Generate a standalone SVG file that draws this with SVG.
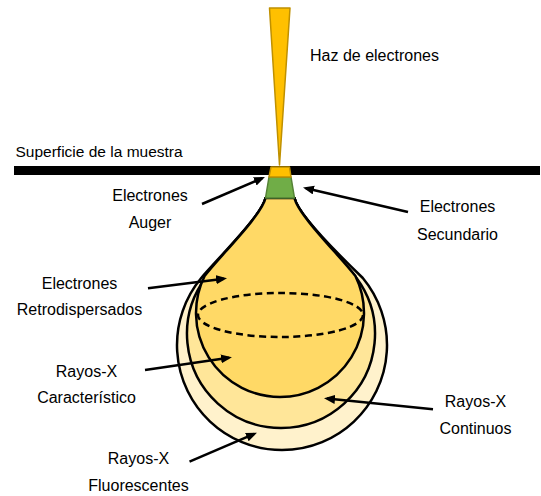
<svg xmlns="http://www.w3.org/2000/svg" width="541" height="496" viewBox="0 0 541 496">
  <style>
    .lbl { font-family: "Liberation Sans", Arial, sans-serif; font-size: 16px; fill: #000; }
    .mid { text-anchor: middle; }
    .vol { stroke: #000; stroke-width: 2.5; stroke-linejoin: round; }
    .arrow { stroke: #000; stroke-width: 2.5; fill: none; marker-end: url(#head); }
  </style>
  <defs>
    <marker id="head" markerUnits="userSpaceOnUse" markerWidth="12" markerHeight="10" refX="8" refY="4.5" orient="auto">
      <path d="M0,0 L11,4.5 L0,9 Z" fill="#000"/>
    </marker>
  </defs>

  <rect width="541" height="496" fill="#fff"/>

  <!-- interaction volume: three nested pear shapes sharing one neck -->
  <g id="fluorescent-volume">
    <path class="vol" fill="#FFF2CC" d="M265.5,198 C262,215 220,256 201.2,278 A105,105 0 1 0 362.8,278 C340,256 298,215 294.5,198 Z"/>
  </g>
  <g id="continuous-volume">
    <path class="vol" fill="#FFE699" d="M265.5,198 C262,215 220,256 205.5,278 A94,94 0 1 0 356.5,278 C340,256 298,215 294.5,198 Z"/>
  </g>
  <g id="characteristic-volume">
    <path class="vol" fill="#FFD966" d="M265.5,198 C262,215 220,256 204.6,276 A84,84 0 1 0 355.4,276 C340,256 298,215 294.5,198 Z"/>
    <ellipse cx="280.5" cy="315" rx="82.5" ry="22" fill="none" stroke="#000" stroke-width="2.5" stroke-dasharray="7,4.5"/>
  </g>

  <!-- sample surface -->
  <g id="surface">
    <rect x="14" y="166" width="526" height="9" fill="#000"/>
  </g>

  <!-- secondary electron zone -->
  <g id="secondary-zone">
    <polygon points="269,177 291,177 294.5,198 265.5,198" fill="#70AD47" stroke="#548235" stroke-width="1.5" stroke-linejoin="round"/>
  </g>
  <!-- Auger zone -->
  <g id="auger-zone">
    <polygon points="271,167 289.5,167 291,177 269,177" fill="#FFC000" stroke="#BF9000" stroke-width="1.5" stroke-linejoin="round"/>
  </g>

  <!-- electron beam -->
  <g id="beam">
    <polygon points="269.5,8 290,8 279.5,165" fill="#FFC000" stroke="#BF9000" stroke-width="1.5" stroke-linejoin="round"/>
  </g>

  <!-- pointers -->
  <g id="connectors">
    <line class="arrow" x1="202" y1="204" x2="262.2" y2="178.2"/>
    <line class="arrow" x1="408" y1="212" x2="305.9" y2="188.2"/>
    <line class="arrow" x1="148" y1="288.3" x2="224" y2="278.7"/>
    <line class="arrow" x1="145" y1="370" x2="229" y2="357.7"/>
    <line class="arrow" x1="433" y1="409.3" x2="327" y2="398.6"/>
    <line class="arrow" x1="189.5" y1="461.7" x2="254.2" y2="433.9"/>
  </g>

  <!-- labels -->
  <g id="label-beam"><text class="lbl" x="310" y="61">Haz de electrones</text></g>
  <g id="label-surface"><text class="lbl" x="15.5" y="157" style="font-size:15.5px">Superficie de la muestra</text></g>
  <g id="label-auger">
    <text class="lbl mid" x="150" y="201">Electrones</text>
    <text class="lbl mid" x="150" y="228">Auger</text>
  </g>
  <g id="label-secondary">
    <text class="lbl mid" x="457.5" y="212">Electrones</text>
    <text class="lbl mid" x="457.5" y="240">Secundario</text>
  </g>
  <g id="label-backscattered">
    <text class="lbl mid" x="79.5" y="289">Electrones</text>
    <text class="lbl mid" x="79.5" y="315">Retrodispersados</text>
  </g>
  <g id="label-characteristic">
    <text class="lbl mid" x="86.5" y="377">Rayos-X</text>
    <text class="lbl mid" x="86.5" y="403">Característico</text>
  </g>
  <g id="label-continuous">
    <text class="lbl mid" x="475.5" y="407">Rayos-X</text>
    <text class="lbl mid" x="475.5" y="434">Continuos</text>
  </g>
  <g id="label-fluorescent">
    <text class="lbl mid" x="138.5" y="464">Rayos-X</text>
    <text class="lbl mid" x="138.5" y="491">Fluorescentes</text>
  </g>
</svg>
